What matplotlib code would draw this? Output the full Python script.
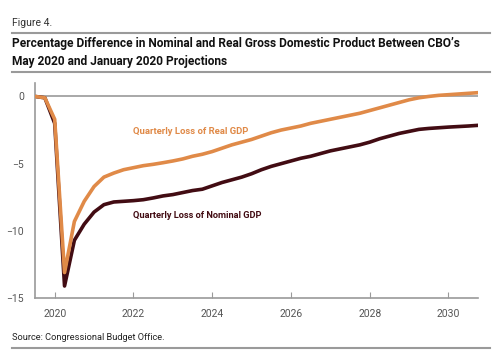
import matplotlib
matplotlib.use("Agg")
import matplotlib.pyplot as plt
from matplotlib.lines import Line2D

plt.rcParams['font.family'] = ['Roboto', 'DejaVu Sans']

# quarters from 2019 Q3 to 2030 Q4
quarters = [2019.5 + 0.25 * i for i in range(46)]

real_gdp = [0.0, -0.1, -1.7, -13.1, -9.3, -7.8, -6.7, -6.0, -5.7, -5.45,
            -5.3, -5.15, -5.05, -4.93, -4.8, -4.65, -4.45, -4.3, -4.1, -3.85,
            -3.6, -3.4, -3.2, -2.95, -2.7, -2.5, -2.35, -2.2, -2.0, -1.85,
            -1.7, -1.55, -1.4, -1.25, -1.05, -0.85, -0.65, -0.45, -0.25, -0.1,
            0.0, 0.08, 0.13, 0.18, 0.23, 0.28]

nominal_gdp = [0.0, -0.1, -2.0, -14.1, -10.7, -9.5, -8.6, -8.05, -7.85, -7.8,
               -7.75, -7.68, -7.55, -7.4, -7.3, -7.15, -7.0, -6.9, -6.65, -6.4,
               -6.2, -6.0, -5.75, -5.45, -5.2, -5.0, -4.8, -4.6, -4.45, -4.25,
               -4.05, -3.9, -3.75, -3.6, -3.4, -3.15, -2.95, -2.75, -2.6, -2.45,
               -2.38, -2.33, -2.28, -2.24, -2.2, -2.15]

x_ticks = [2020, 2022, 2024, 2026, 2028, 2030]
y_ticks = [0, -5, -10, -15]

orange = '#E08A48'
maroon = '#420C13'
gray = '#9A9A9A'

fig = plt.figure(figsize=(5, 3.64), dpi=100)
ax = fig.add_axes([0.07, 0.181, 0.886, 0.591])

ax.axhline(0, color=gray, lw=1.2, zorder=1)
ax.plot(quarters, nominal_gdp, color=maroon, lw=2.6, solid_joinstyle='round', zorder=2)
ax.plot(quarters, real_gdp, color=orange, lw=2.6, solid_joinstyle='round', zorder=3)

ax.set_xlim(2019.5, 2030.75)
ax.set_ylim(-15, 1)
ax.set_xticks(x_ticks)
ax.set_yticks(y_ticks)
ax.set_yticklabels(['0', '\u22125', '\u221210', '\u221215'])
ax.tick_params(axis='x', direction='in', length=4, color=gray, labelsize=7.5,
               labelcolor='#555555', pad=8)
ax.tick_params(axis='y', length=0, labelsize=7.5, labelcolor='#555555', pad=8)

for side in ['top', 'right']:
    ax.spines[side].set_visible(False)
for side in ['left', 'bottom']:
    ax.spines[side].set_color(gray)
    ax.spines[side].set_linewidth(1.2)

ax.text(2022.0, -2.6, 'Quarterly Loss of Real GDP', color=orange,
        fontsize=6.8, fontweight='bold', va='center')
ax.text(2022.0, -8.85, 'Quarterly Loss of Nominal GDP', color=maroon,
        fontsize=6.7, fontweight='bold', va='center')

# header and footer
fig.text(12 / 500, 1 - 23 / 364, 'Figure 4.', fontsize=7.5, color='#333333', va='center')
fig.add_artist(Line2D([12 / 500, 490 / 500], [1 - 33 / 364] * 2, color=gray, lw=1.5))
fig.text(12 / 500, 1 - 44 / 364,
         'Percentage Difference in Nominal and Real Gross Domestic Product Between CBO\u2019s',
         fontsize=8.55, fontweight='bold', color='#111111', va='center')
fig.text(12 / 500, 1 - 62 / 364, 'May 2020 and January 2020 Projections',
         fontsize=8.55, fontweight='bold', color='#111111', va='center')
fig.add_artist(Line2D([12 / 500, 490 / 500], [1 - 72 / 364] * 2, color=gray, lw=1.5))
fig.text(12 / 500, 1 - 338 / 364, 'Source: Congressional Budget Office.',
         fontsize=6.7, color='#222222', va='center')
fig.add_artist(Line2D([12 / 500, 490 / 500], [1 - 348 / 364] * 2, color=gray, lw=1.5))

fig.savefig('out.png', dpi=100)
